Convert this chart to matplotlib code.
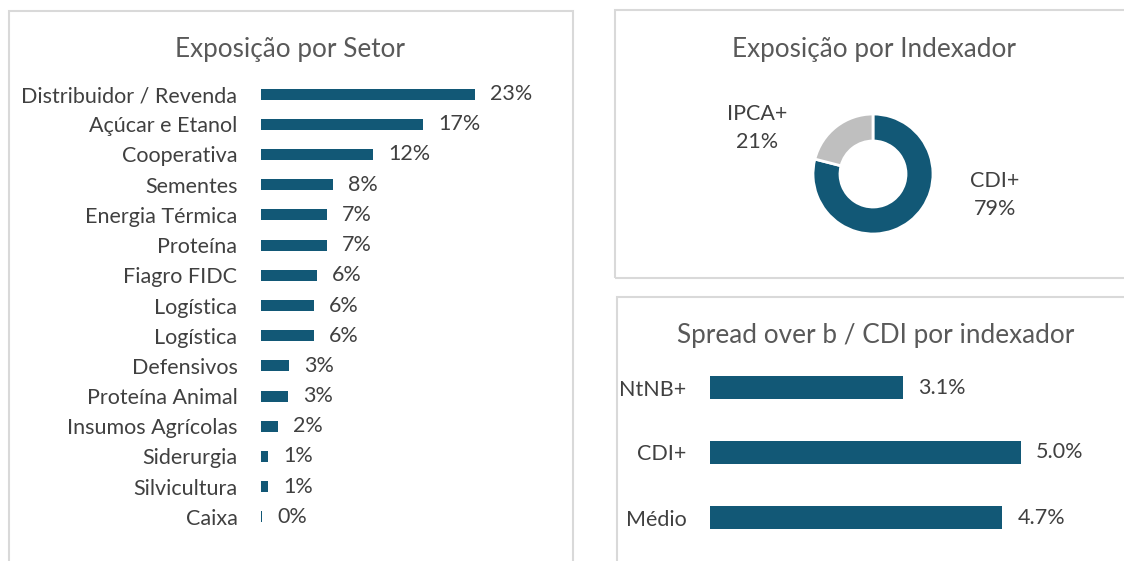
import matplotlib
matplotlib.use('Agg')
import matplotlib.pyplot as plt
from matplotlib.patches import Rectangle

# dados
setores = ['Distribuidor / Revenda', 'Açúcar e Etanol', 'Cooperativa', 'Sementes',
           'Energia Térmica', 'Proteína', 'Fiagro FIDC', 'Logística', 'Logística',
           'Defensivos', 'Proteína Animal', 'Insumos Agrícolas', 'Siderurgia',
           'Silvicultura', 'Caixa']
exposicao_setor = [23.0, 17.4, 12.0, 7.7, 7.1, 7.1, 6.0, 5.7, 5.7, 3.0, 2.9, 1.8, 0.8, 0.8, 0.1]

indexadores = ['CDI+', 'IPCA+']
exposicao_indexador = [79, 21]

spread_labels = ['NtNB+', 'CDI+', 'Médio']
spread_vals = [3.1, 5.0, 4.7]

AZUL = '#125876'
CINZA = '#bfbfbf'
TXT = '#404040'
TIT = '#595959'
BORDA = '#d9d9d9'

W, H = 1124, 561
FS = 15.5    # rotulos
FT = 18.8    # titulos
plt.rcParams['font.family'] = ['Lato', 'DejaVu Sans']

fig = plt.figure(figsize=(W/100, H/100), dpi=100)
fig.patch.set_facecolor('white')

def box(x0, y0, x1, y1):
    # pixels (origem no topo) -> fracao da figura
    return [x0/W, 1-y1/H, (x1-x0)/W, (y1-y0)/H]

def px(x, y):
    return x/W, 1-y/H

# molduras dos paineis
for (x0, y0, x1, y1) in [(9, 11, 573, 600), (615, 10, 1140, 278), (617, 297, 1140, 600)]:
    fig.patches.append(Rectangle((x0/W, 1-y1/H), (x1-x0)/W, (y1-y0)/H,
                                 transform=fig.transFigure, fill=False,
                                 edgecolor=BORDA, linewidth=1.5))

def barras(ax, labels, vals, altura, fmt, pad_lbl):
    y = range(len(vals))
    bars = ax.barh(y, vals, height=altura, color=AZUL)
    ax.set_yticks(list(y))
    ax.set_yticklabels(labels, fontsize=FS, color=TXT)
    ax.tick_params(axis='y', length=0, pad=pad_lbl)
    ax.set_xticks([])
    for s in ax.spines.values():
        s.set_visible(False)
    ax.invert_yaxis()
    ax.bar_label(bars, labels=[fmt(v) for v in vals], padding=11, fontsize=FS, color=TXT)
    ax.patch.set_alpha(0)

# Exposicao por Setor
ax1 = fig.add_axes(box(261, 79, 560, 532))
barras(ax1, setores, exposicao_setor, 0.37, lambda v: f'{v:.0f}%', 17)
ax1.set_xlim(0, 23*299/214)
ax1.set_ylim(len(setores)-0.5, -0.5)
fig.text(*px(290, 50), 'Exposição por Setor', ha='center', va='center', fontsize=FT, color=TIT)

# Exposicao por Indexador
ax2 = fig.add_axes(box(813, 114, 933, 234))
ax2.pie(exposicao_indexador, colors=[AZUL, CINZA], startangle=90, counterclock=False,
        radius=1, wedgeprops=dict(width=0.45, edgecolor='white', linewidth=2))
ax2.set_xlim(-1, 1)
ax2.set_ylim(-1, 1)
ax2.set_aspect('equal')
fig.text(*px(874, 50), 'Exposição por Indexador', ha='center', va='center', fontsize=FT, color=TIT)
fig.text(*px(995, 195), f'{indexadores[0]}\n{exposicao_indexador[0]}%', ha='center', va='center',
         fontsize=FS, color=TXT, linespacing=1.45)
fig.text(*px(757, 128), f'{indexadores[1]}\n{exposicao_indexador[1]}%', ha='center', va='center',
         fontsize=FS, color=TXT, linespacing=1.45)

# Spread over b / CDI por indexador
ax3 = fig.add_axes(box(710, 355, 1110, 550))
barras(ax3, spread_labels, spread_vals, 0.34, lambda v: f'{v:.1f}%', 17)
ax3.set_xlim(0, 5.0*400/311)
ax3.set_ylim(len(spread_vals)-0.5, -0.5)
fig.text(*px(876, 336), 'Spread over b / CDI por indexador', ha='center', va='center', fontsize=FT, color=TIT)

fig.savefig('out.png', dpi=100)
